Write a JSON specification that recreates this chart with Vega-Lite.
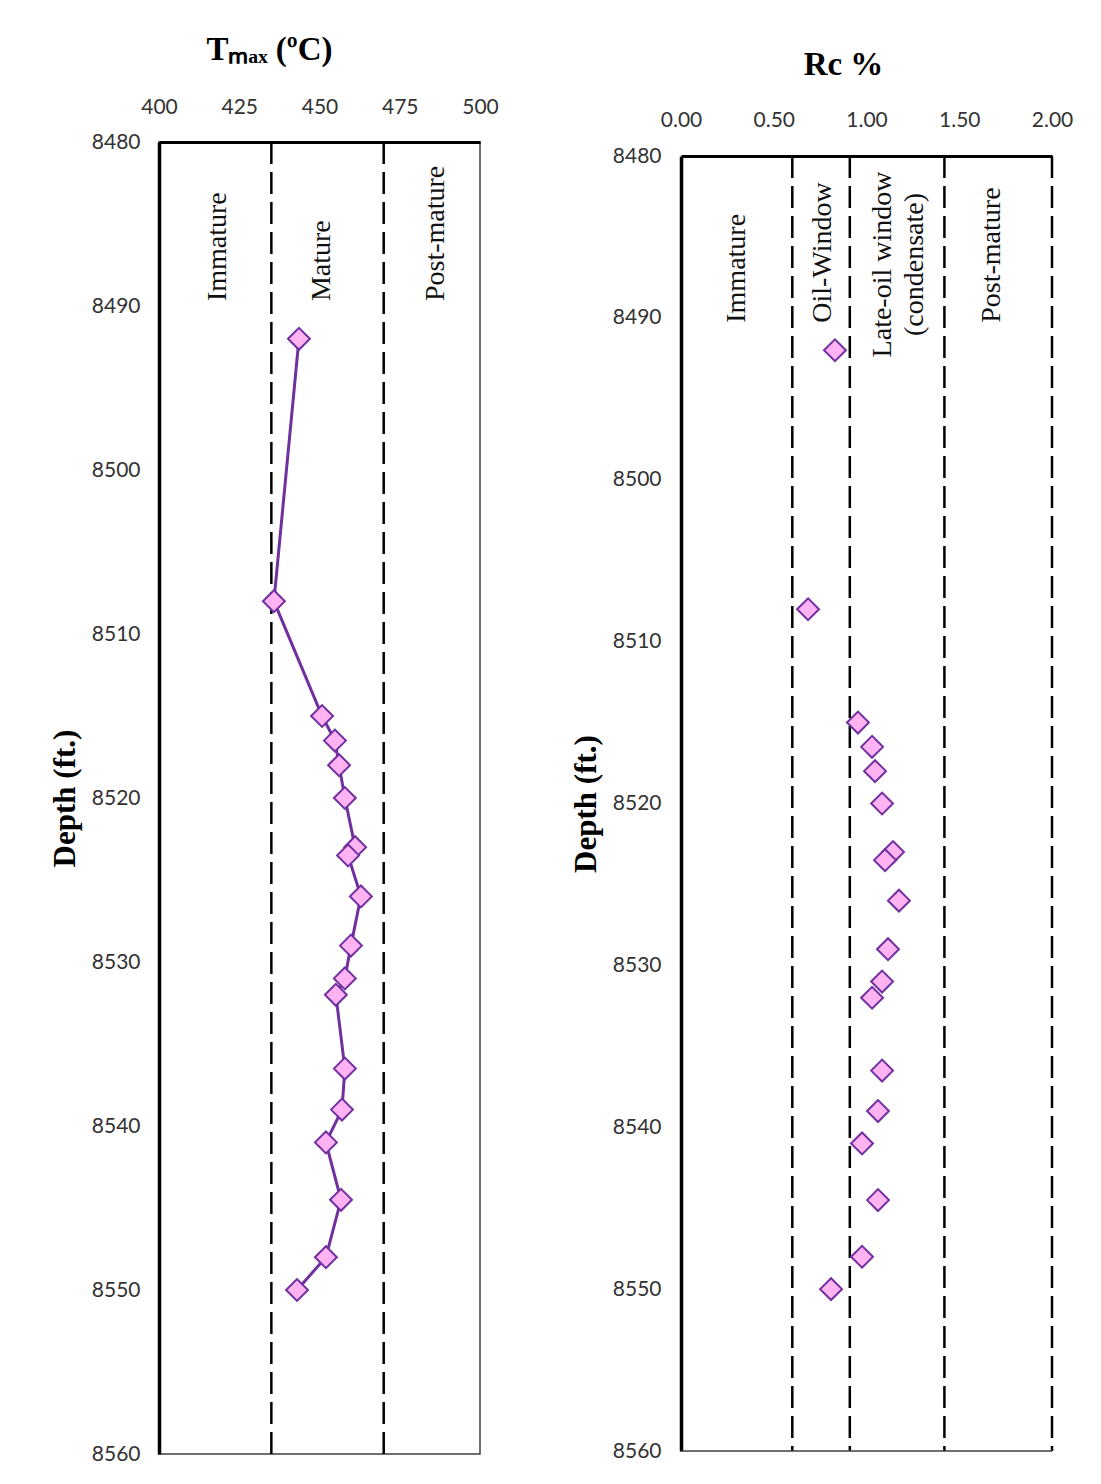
{
  "$schema": "https://vega.github.io/schema/vega-lite/v6.json",
  "padding": {"left": 48, "top": 32, "right": 0, "bottom": 0},
  "background": "white",
  "spacing": 70,
  "datasets": {
    "samples": [
      {"depth": 8492.0, "tmax": 443.6, "rc": 0.83},
      {"depth": 8508.0, "tmax": 435.8, "rc": 0.685},
      {"depth": 8515.0, "tmax": 450.8, "rc": 0.954},
      {"depth": 8516.5, "tmax": 454.8, "rc": 1.03},
      {"depth": 8518.0, "tmax": 456.1, "rc": 1.046},
      {"depth": 8520.0, "tmax": 457.9, "rc": 1.084},
      {"depth": 8523.0, "tmax": 461.1, "rc": 1.143},
      {"depth": 8523.5, "tmax": 458.9, "rc": 1.1},
      {"depth": 8526.0, "tmax": 462.9, "rc": 1.175},
      {"depth": 8529.0, "tmax": 459.8, "rc": 1.116},
      {"depth": 8531.0, "tmax": 457.9, "rc": 1.084},
      {"depth": 8532.0, "tmax": 455.1, "rc": 1.03},
      {"depth": 8536.5, "tmax": 457.9, "rc": 1.084},
      {"depth": 8539.0, "tmax": 457.0, "rc": 1.062},
      {"depth": 8541.0, "tmax": 452.0, "rc": 0.976},
      {"depth": 8544.5, "tmax": 456.7, "rc": 1.062},
      {"depth": 8548.0, "tmax": 452.0, "rc": 0.976},
      {"depth": 8550.0, "tmax": 443.0, "rc": 0.809}
    ],
    "tmaxLimits": [{"v": 435}, {"v": 470}],
    "rcLimits": [{"v": 0.6}, {"v": 0.91}, {"v": 1.42}, {"v": 2.0}],
    "tmaxZones": [
      {"label": "Immature", "tmax": 418.4, "depth": 8489.7},
      {"label": "Mature", "tmax": 450.8, "depth": 8489.7},
      {"label": "Post-mature", "tmax": 486.3, "depth": 8489.7}
    ],
    "rcZones": [
      {"label": "Immature", "rc": 0.3, "depth": 8490.3},
      {"label": "Oil-Window", "rc": 0.766, "depth": 8490.3},
      {"label": "Post-mature", "rc": 1.677, "depth": 8490.3}
    ],
    "rcZones2": [
      {"label": "Late-oil window\n(condensate)", "rc": 1.089, "depth": 8486.7}
    ]
  },
  "config": {
    "view": {"stroke": "#404040", "strokeWidth": 1.5},
    "axis": {
      "grid": false,
      "ticks": false,
      "labelFont": "Lato",
      "labelFontSize": 21,
      "labelColor": "#333333",
      "titleFont": "Liberation Serif",
      "titleFontWeight": "bold",
      "titleColor": "black",
      "domainColor": "black",
      "labelFlush": false,
      "labelOverlap": false
    }
  },
  "hconcat": [
    {
      "width": 321,
      "height": 1312,
      "layer": [
        {
          "data": {"name": "tmaxLimits"},
          "mark": {"type": "rule", "strokeDash": [22, 8], "strokeWidth": 2.5, "color": "black"},
          "encoding": {
            "x": {
              "field": "v", "type": "quantitative", "title": "Tₘₐₓ (ºC)",
              "scale": {"domain": [400, 500], "nice": false, "zero": false},
              "axis": {"orient": "top", "values": [400, 425, 450, 475, 500], "domainWidth": 3, "labelPadding": 25, "titleFontSize": 33, "titlePadding": 30, "titleX": 110}
            },
            "y": {
              "datum": 8480, "type": "quantitative", "title": "Depth (ft.)",
              "scale": {"domain": [8480, 8560], "nice": false, "zero": false, "reverse": true},
              "axis": {"values": [8480, 8490, 8500, 8510, 8520, 8530, 8540, 8550, 8560], "format": "d", "domainWidth": 3.5, "labelPadding": 19, "titleFontSize": 31, "titlePadding": 10}
            },
            "y2": {"datum": 8560}
          }
        },
        {
          "data": {"name": "tmaxZones"},
          "mark": {"type": "text", "angle": 270, "align": "left", "baseline": "middle", "font": "Liberation Serif", "fontSize": 28, "color": "#111111"},
          "encoding": {
            "x": {"field": "tmax", "type": "quantitative", "title": "Tₘₐₓ (ºC)"},
            "y": {"field": "depth", "type": "quantitative", "title": "Depth (ft.)"},
            "text": {"field": "label", "type": "nominal"}
          }
        },
        {
          "data": {"name": "samples"},
          "mark": {"type": "line", "color": "#7030A0", "strokeWidth": 3},
          "encoding": {
            "x": {"field": "tmax", "type": "quantitative", "title": "Tₘₐₓ (ºC)"},
            "y": {"field": "depth", "type": "quantitative", "title": "Depth (ft.)"},
            "order": {"field": "depth", "type": "quantitative"}
          }
        },
        {
          "data": {"name": "samples"},
          "mark": {"type": "point", "shape": "diamond", "filled": true, "fill": "#FFB3F2", "stroke": "#7030A0", "strokeWidth": 2, "size": 480, "opacity": 1},
          "encoding": {
            "x": {"field": "tmax", "type": "quantitative", "title": "Tₘₐₓ (ºC)"},
            "y": {"field": "depth", "type": "quantitative", "title": "Depth (ft.)"}
          }
        }
      ]
    },
    {
      "width": 371,
      "height": 1312,
      "view": {"stroke": null},
      "layer": [
        {
          "data": {"name": "rcLimits"},
          "mark": {"type": "rule", "strokeDash": [22, 8], "strokeWidth": 2.5, "color": "black"},
          "encoding": {
            "x": {
              "field": "v", "type": "quantitative", "title": "Rc %",
              "scale": {"domain": [0, 2], "nice": false, "zero": false},
              "axis": {"orient": "top", "values": [0, 0.5, 1, 1.5, 2], "format": ".2f", "offset": -14, "domainWidth": 3, "labelPadding": 26, "titleFontSize": 33, "titlePadding": 28, "titleX": 162}
            },
            "y": {
              "datum": 8480, "type": "quantitative", "title": "Depth (ft.)",
              "scale": {"domain": [8480, 8560], "nice": false, "zero": false, "range": [14, 1309]},
              "axis": {"values": [8480, 8490, 8500, 8510, 8520, 8530, 8540, 8550, 8560], "format": "d", "domainWidth": 3.5, "labelPadding": 20, "titleFontSize": 31, "titlePadding": 10}
            },
            "y2": {"datum": 8560}
          }
        },
        {
          "data": {"values": [{"a": 0, "b": 2, "d": 8560}]},
          "mark": {"type": "rule", "strokeWidth": 1.5, "color": "#404040"},
          "encoding": {
            "x": {"field": "a", "type": "quantitative", "title": "Rc %"},
            "x2": {"field": "b"},
            "y": {"field": "d", "type": "quantitative", "title": "Depth (ft.)"}
          }
        },
        {
          "data": {"name": "rcZones"},
          "mark": {"type": "text", "angle": 270, "align": "left", "baseline": "middle", "font": "Liberation Serif", "fontSize": 28, "color": "#111111"},
          "encoding": {
            "x": {"field": "rc", "type": "quantitative", "title": "Rc %"},
            "y": {"field": "depth", "type": "quantitative", "title": "Depth (ft.)"},
            "text": {"field": "label", "type": "nominal"}
          }
        },
        {
          "data": {"name": "rcZones2"},
          "mark": {"type": "text", "angle": 270, "align": "center", "baseline": "middle", "font": "Liberation Serif", "fontSize": 28, "lineHeight": 32, "lineBreak": "\n", "color": "#111111"},
          "encoding": {
            "x": {"field": "rc", "type": "quantitative", "title": "Rc %"},
            "y": {"field": "depth", "type": "quantitative", "title": "Depth (ft.)"},
            "text": {"field": "label", "type": "nominal"}
          }
        },
        {
          "data": {"name": "samples"},
          "mark": {"type": "point", "shape": "diamond", "filled": true, "fill": "#FFB3F2", "stroke": "#7030A0", "strokeWidth": 2, "size": 480, "opacity": 1},
          "encoding": {
            "x": {"field": "rc", "type": "quantitative", "title": "Rc %"},
            "y": {"field": "depth", "type": "quantitative", "title": "Depth (ft.)"}
          }
        }
      ]
    }
  ]
}
